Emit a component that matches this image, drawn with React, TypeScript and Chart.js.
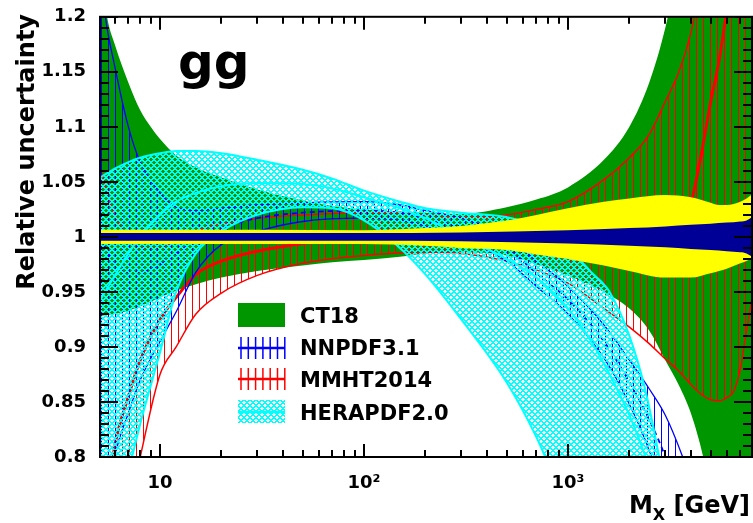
import React, { useEffect, useRef } from 'react';
import { Chart, registerables } from 'chart.js';
Chart.register(...registerables);

const FONT = '"DejaVu Sans", "Liberation Sans", sans-serif';

// axis ranges / ticks
const xRange = [5.08, 7980];
const yRange = [0.8, 1.2];
const yTickValues = [0.8, 0.85, 0.9, 0.95, 1.0, 1.05, 1.1, 1.15, 1.2];
const yTickLabels = ['0.8', '0.85', '0.9', '0.95', '1', '1.05', '1.1', '1.15', '1.2'];
const xTickValues = [10, 100, 1000];
const xTickLabels = ['10', '10\u00B2', '10\u00B3'];
const xMinorTicks = [6, 7, 8, 9, 20, 30, 40, 50, 60, 70, 80, 90, 200, 300, 400, 500, 600, 700, 800, 900, 2000, 3000, 4000, 5000, 6000, 7000];

// CT18 (green band)
const ct18M = [5, 5.5, 6, 7, 8, 9, 10, 12, 15, 20, 30, 50, 70, 100, 150, 200, 300, 500, 700, 1000, 1500, 2000, 2500, 3000, 3500, 4000, 4600, 5200, 6000, 8000];
const ct18Up = [1.26, 1.2, 1.175, 1.14, 1.115, 1.1, 1.089, 1.074, 1.063, 1.054, 1.043, 1.033, 1.028, 1.025, 1.023, 1.022, 1.021, 1.027, 1.034, 1.045, 1.07, 1.1, 1.14, 1.19, 1.25, 1.3, 1.35, 1.4, 1.45, 1.5];
const ct18Lo = [0.928, 0.929, 0.93, 0.933, 0.937, 0.941, 0.945, 0.951, 0.957, 0.963, 0.969, 0.974, 0.977, 0.979, 0.982, 0.985, 0.986, 0.983, 0.975, 0.965, 0.95, 0.935, 0.915, 0.888, 0.865, 0.84, 0.8, 0.75, 0.7, 0.6];

// MMHT2014 (red hatched band)
const mmhtM = [5, 5.5, 6, 7, 8, 10, 12, 15, 20, 30, 50, 100, 200, 300, 500, 700, 1000, 1500, 2000, 2500, 3000, 3500, 4000, 4500, 5000, 5500, 6000, 6500, 7000, 7500, 8000];
const mmhtUp = [1.07, 1.04, 1.02, 0.998, 0.99, 0.99, 0.998, 1.006, 1.012, 1.017, 1.02, 1.022, 1.02, 1.018, 1.02, 1.025, 1.032, 1.052, 1.072, 1.093, 1.123, 1.15, 1.185, 1.23, 1.27, 1.31, 1.35, 1.4, 1.45, 1.5, 1.55];
const mmhtLo = [0.6, 0.65, 0.7, 0.75, 0.8, 0.875, 0.9, 0.93, 0.949, 0.965, 0.976, 0.983, 0.986, 0.985, 0.978, 0.97, 0.958, 0.935, 0.918, 0.903, 0.889, 0.878, 0.866, 0.857, 0.852, 0.851, 0.854, 0.86, 0.88, 0.915, 0.945];
const mmhtC = [0.72, 0.76, 0.81, 0.855, 0.888, 0.925, 0.945, 0.966, 0.978, 0.987, 0.994, 1.0, 1.003, 1.003, 1.001, 1.0, 0.998, 0.996, 0.995, 0.996, 1.0, 1.01, 1.03, 1.075, 1.122, 1.16, 1.205, 1.25, 1.3, 1.35, 1.4];

// NNPDF3.1 (blue hatched band)
const nnM = [5, 5.4, 6, 7, 8, 10, 12, 15, 20, 30, 50, 100, 150, 200, 300, 500, 700, 1000, 1500, 2000, 2500, 3000, 3650, 4500, 6000, 8000];
const nnUp = [1.26, 1.2, 1.155, 1.1, 1.068, 1.04, 1.027, 1.024, 1.026, 1.029, 1.031, 1.032, 1.029, 1.024, 1.017, 1.0, 0.978, 0.955, 0.92, 0.888, 0.862, 0.838, 0.8, 0.75, 0.7, 0.65];
const nnLo = [0.7, 0.74, 0.8, 0.84, 0.87, 0.905, 0.932, 0.968, 0.993, 1.005, 1.014, 1.017, 1.015, 1.01, 0.998, 0.978, 0.955, 0.93, 0.89, 0.848, 0.806, 0.76, 0.7, 0.65, 0.6, 0.55];
const nnC = [1.0, 0.99, 0.975, 0.968, 0.968, 0.975, 0.985, 0.997, 1.008, 1.017, 1.022, 1.024, 1.022, 1.017, 1.008, 0.99, 0.967, 0.943, 0.905, 0.868, 0.834, 0.8, 0.75, 0.7, 0.65, 0.6];

// HERAPDF2.0 (cyan cross-hatched band)
const heraM = [5, 6, 7, 8, 10, 12, 15, 20, 30, 50, 70, 100, 150, 200, 300, 500, 700, 1000, 1300, 1600, 2000, 2400, 2800, 3500];
const heraUp = [1.053, 1.062, 1.068, 1.072, 1.076, 1.078, 1.078, 1.076, 1.07, 1.061, 1.053, 1.042, 1.032, 1.026, 1.022, 1.018, 1.01, 0.99, 0.968, 0.95, 0.91, 0.86, 0.8, 0.7];
const heraLo = [0.65, 0.72, 0.785, 0.83, 0.895, 0.95, 0.985, 1.005, 1.02, 1.027, 1.026, 1.015, 0.99, 0.966, 0.925, 0.868, 0.818, 0.75, 0.7, 0.65, 0.6, 0.55, 0.5, 0.45];
const heraC = [0.94, 0.965, 0.985, 1.0, 1.02, 1.032, 1.04, 1.046, 1.049, 1.048, 1.044, 1.036, 1.026, 1.017, 1.0, 0.98, 0.963, 0.935, 0.905, 0.875, 0.838, 0.8, 0.76, 0.7];

// yellow band
const yelM = [5, 30, 100, 200, 300, 500, 700, 1000, 1500, 2000, 3000, 4000, 5000, 5500, 6000, 7000, 7500, 8000];
const yelUp = [1.0065, 1.0065, 1.006, 1.008, 1.01, 1.015, 1.02, 1.026, 1.032, 1.035, 1.038, 1.036, 1.031, 1.029, 1.029, 1.032, 1.035, 1.039];
const yelLo = [0.9935, 0.9935, 0.9935, 0.992, 0.99, 0.988, 0.984, 0.98, 0.974, 0.969, 0.963, 0.963, 0.967, 0.969, 0.971, 0.976, 0.978, 0.981];

// navy band
const navM = [5, 100, 300, 1000, 2000, 3000, 4000, 5000, 6000, 7000, 7500, 8000];
const navUp = [1.0035, 1.0035, 1.004, 1.006, 1.008, 1.0095, 1.011, 1.012, 1.013, 1.014, 1.015, 1.018];
const navLo = [0.9965, 0.9965, 0.996, 0.994, 0.992, 0.9905, 0.989, 0.988, 0.987, 0.986, 0.985, 0.982];

const legendLabels = ['CT18', 'NNPDF3.1', 'MMHT2014', 'HERAPDF2.0'];

const GREEN = 'rgb(0,150,0)';
const RED = 'rgb(255,0,0)';
const BLUE = 'rgb(0,0,255)';
const CYAN = 'rgb(0,255,255)';
const YELLOW = 'rgb(255,255,0)';
const NAVY = 'rgb(0,0,150)';

const pts = (m: number[], v: number[]) => m.map((x, i) => ({ x, y: v[i] }));

function vHatch(color: string, w: number): CanvasPattern | string {
  const c = document.createElement('canvas');
  c.width = w; c.height = 4;
  const g = c.getContext('2d')!;
  g.fillStyle = color;
  g.fillRect(Math.floor(w / 2), 0, 1, 4);
  return g.createPattern(c, 'repeat') || color;
}

function crossHatch(color: string): CanvasPattern | string {
  const n = 6;
  const c = document.createElement('canvas');
  c.width = n; c.height = n;
  const g = c.getContext('2d')!;
  g.fillStyle = color;
  for (let x = 0; x < n; x++) {
    for (let y = 0; y < n; y++) {
      const s = (x + y) % n;
      const d = (x - y + 2 * n) % n;
      if (s < 2 || d < 2) g.fillRect(x, y, 1, 1);
    }
  }
  return g.createPattern(c, 'repeat') || color;
}

export default function App() {
  const ref = useRef<HTMLCanvasElement | null>(null);
  useEffect(() => {
    document.body.style.margin = '0';
    const canvas = ref.current!;
    const redH = vHatch(RED, 7);
    const blueH = vHatch(BLUE, 7);
    const cyanH = crossHatch(CYAN);
    const line = { pointRadius: 0, cubicInterpolationMode: 'monotone' as const };

    const decor = {
      id: 'decor',
      afterDraw(chart: any) {
        const { ctx, chartArea: a, scales } = chart;
        const xs = scales.x, ys = scales.y;
        ctx.save();
        ctx.strokeStyle = '#000';
        ctx.lineWidth = 2;
        ctx.beginPath();
        for (let k = 80; k <= 120; k++) {
          const major = k % 5 === 0;
          const y = Math.round(ys.getPixelForValue(k / 100));
          const len = major ? 18 : 9;
          ctx.moveTo(a.left, y); ctx.lineTo(a.left + len, y);
          ctx.moveTo(a.right, y); ctx.lineTo(a.right - len, y);
        }
        xTickValues.forEach((v) => {
          const x = Math.round(xs.getPixelForValue(v));
          ctx.moveTo(x, a.bottom); ctx.lineTo(x, a.bottom - 13);
          ctx.moveTo(x, a.top); ctx.lineTo(x, a.top + 13);
        });
        xMinorTicks.forEach((v) => {
          const x = Math.round(xs.getPixelForValue(v));
          ctx.moveTo(x, a.bottom); ctx.lineTo(x, a.bottom - 7);
          ctx.moveTo(x, a.top); ctx.lineTo(x, a.top + 7);
        });
        ctx.stroke();
        ctx.strokeRect(a.left, a.top, a.right - a.left, a.bottom - a.top);

        // legend
        const lx = 238, lw = 47;
        ctx.fillStyle = GREEN;
        ctx.fillRect(lx, 303, lw, 24);
        const hatchSym = (yc: number, col: string) => {
          ctx.strokeStyle = col;
          ctx.lineWidth = 1.5;
          ctx.beginPath();
          for (let k = 0; k < 7; k++) {
            const x = lx + 3 + k * 7.3;
            ctx.moveTo(x, yc - 11); ctx.lineTo(x, yc + 11);
          }
          ctx.stroke();
          ctx.lineWidth = 2.5;
          ctx.beginPath(); ctx.moveTo(lx, yc); ctx.lineTo(lx + lw, yc); ctx.stroke();
        };
        hatchSym(348, BLUE);
        hatchSym(379, RED);
        ctx.fillStyle = cyanH as any;
        ctx.fillRect(lx, 400, lw, 23);
        ctx.strokeStyle = CYAN; ctx.lineWidth = 2.5;
        ctx.beginPath(); ctx.moveTo(lx, 412); ctx.lineTo(lx + lw, 412); ctx.stroke();

        ctx.fillStyle = '#000';
        ctx.font = `bold 21px ${FONT}`;
        ctx.textAlign = 'left';
        ctx.textBaseline = 'alphabetic';
        const bl = [323, 355, 387, 420];
        legendLabels.forEach((t, i) => ctx.fillText(t, 300, bl[i]));

        // gg
        ctx.font = `bold 50px ${FONT}`;
        ctx.fillText('gg', 178, 79);

        // y title
        ctx.save();
        ctx.translate(28, 14);
        ctx.rotate(-Math.PI / 2);
        ctx.font = `bold 24px ${FONT}`;
        ctx.textAlign = 'right';
        ctx.textBaseline = 'middle';
        ctx.fillText('Relative uncertainty', 0, 0);
        ctx.restore();

        // x title
        ctx.textAlign = 'left';
        ctx.font = `bold 24px ${FONT}`;
        const wM = ctx.measureText('M').width;
        const wG = ctx.measureText(' [GeV]').width;
        ctx.font = `bold 16px ${FONT}`;
        const wX = ctx.measureText('X').width;
        const x0 = 750 - wM - wX - wG;
        ctx.font = `bold 24px ${FONT}`;
        ctx.fillText('M', x0, 513);
        ctx.font = `bold 16px ${FONT}`;
        ctx.fillText('X', x0 + wM, 520);
        ctx.font = `bold 24px ${FONT}`;
        ctx.fillText(' [GeV]', x0 + wM + wX, 513);
        ctx.restore();
      },
    };

    const chart = new Chart(canvas, {
      type: 'line',
      data: {
        datasets: [
          { data: pts(navM, navUp), borderWidth: 0, borderColor: 'transparent', backgroundColor: NAVY, fill: '+1', order: 1, ...line },
          { data: pts(navM, navLo), borderWidth: 0, borderColor: 'transparent', fill: false, order: 1, ...line },
          { data: pts(yelM, yelUp), borderWidth: 0, borderColor: 'transparent', backgroundColor: YELLOW, fill: '+1', order: 2, ...line },
          { data: pts(yelM, yelLo), borderWidth: 0, borderColor: 'transparent', fill: false, order: 2, ...line },
          { data: pts(heraM, heraUp), borderWidth: 2, borderColor: CYAN, backgroundColor: cyanH as any, fill: '+1', order: 6, ...line },
          { data: pts(heraM, heraLo), borderWidth: 2, borderColor: CYAN, fill: false, order: 6, ...line },
          { data: pts(heraM, heraC), borderWidth: 2, borderColor: CYAN, fill: false, order: 6, ...line },
          { data: pts(nnM, nnUp), borderWidth: 1.3, borderColor: BLUE, backgroundColor: blueH as any, fill: '+1', order: 7, ...line },
          { data: pts(nnM, nnLo), borderWidth: 1.3, borderColor: BLUE, fill: false, order: 7, ...line },
          { data: pts(nnM, nnC), borderWidth: 1.8, borderColor: BLUE, borderDash: [5, 4], fill: false, order: 7, ...line },
          { data: pts(mmhtM, mmhtUp), borderWidth: 1.5, borderColor: RED, backgroundColor: redH as any, fill: '+1', order: 8, ...line },
          { data: pts(mmhtM, mmhtLo), borderWidth: 1.5, borderColor: RED, fill: false, order: 8, ...line },
          { data: pts(mmhtM, mmhtC), borderWidth: 3, borderColor: RED, fill: false, order: 8, ...line },
          { data: pts(ct18M, ct18Up), borderWidth: 0, borderColor: 'transparent', backgroundColor: GREEN, fill: '+1', order: 10, ...line },
          { data: pts(ct18M, ct18Lo), borderWidth: 0, borderColor: 'transparent', fill: false, order: 10, ...line },
        ] as any,
      },
      options: {
        animation: false,
        responsive: false,
        events: [],
        layout: { padding: { left: 0, right: 1, top: 14, bottom: 0 } },
        plugins: { legend: { display: false }, tooltip: { enabled: false } },
        scales: {
          x: {
            type: 'logarithmic',
            min: xRange[0],
            max: xRange[1],
            grid: { display: false },
            border: { display: false },
            afterBuildTicks: (s: any) => { s.ticks = xTickValues.map((v) => ({ value: v })); },
            afterFit: (s: any) => { s.height = 66; },
            ticks: {
              autoSkip: false,
              maxRotation: 0,
              padding: 8,
              color: '#000',
              font: { family: FONT, weight: 'bold', size: 18 },
              callback: (_v: any, i: number) => xTickLabels[i],
            },
          },
          y: {
            type: 'linear',
            min: yRange[0],
            max: yRange[1],
            grid: { display: false },
            border: { display: false },
            afterBuildTicks: (s: any) => { s.ticks = yTickValues.map((v) => ({ value: v })); },
            afterFit: (s: any) => { s.width = 100; },
            ticks: {
              autoSkip: false,
              padding: 6,
              color: '#000',
              font: { family: FONT, weight: 'bold', size: 18 },
              callback: (_v: any, i: number) => yTickLabels[i],
            },
          },
        },
      } as any,
      plugins: [decor],
    });
    return () => chart.destroy();
  }, []);
  return (
    <div style={{ width: 753, height: 523, background: '#fff' }}>
      <canvas ref={ref} width={753} height={523} style={{ display: 'block' }} />
    </div>
  );
}
